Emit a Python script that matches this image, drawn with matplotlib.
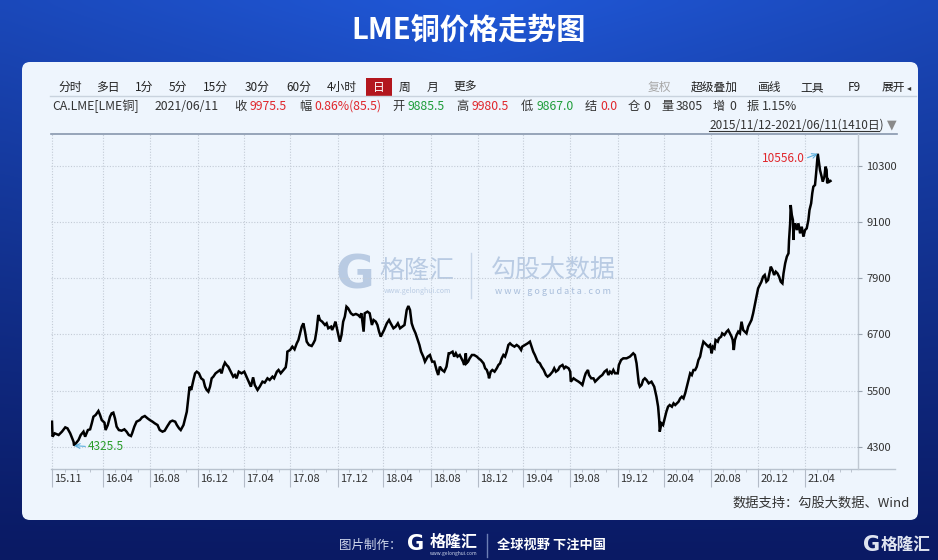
import numpy as np
import matplotlib
matplotlib.use("Agg")
import matplotlib.pyplot as plt
from matplotlib.patches import FancyBboxPatch, Rectangle
from matplotlib import transforms

plt.rcParams['font.family'] = ['Noto Sans CJK SC', 'DejaVu Sans']

# trading-day index (0 = 2015/11/12, 1409 = 2021/06/11) and LME copper close
day_idx = [
    0, 1, 5, 12, 18, 24, 28, 33, 39, 40, 48, 52, 57, 60, 65, 69, 72, 75, 79, 83,
    84, 87, 90, 95, 97, 101, 105, 108, 111, 114, 117, 121, 126, 131, 135, 139, 143, 145, 149, 153,
    159, 163, 168, 173, 177, 182, 186, 191, 195, 200, 204, 209, 214, 218, 223, 226, 230, 233, 238, 241,
    244, 247, 249, 252, 256, 259, 262, 266, 270, 274, 277, 280, 283, 286, 289, 292, 296, 300, 304, 307,
    310, 313, 316, 319, 322, 325, 328, 331, 334, 338, 343, 348, 352,
    360, 364, 367, 372, 376, 381, 385, 390, 394, 399, 402, 407, 410, 414, 419, 423, 425, 426, 431, 435,
    439, 443, 446, 449, 452, 455, 458, 461, 465, 470, 473, 476, 479, 482, 485, 489, 494, 497, 500, 505,
    507, 511, 513, 517, 521, 524, 527, 530, 533, 536, 541, 545, 550, 554, 557, 560, 564, 566, 571, 575,
    579, 582, 586, 589, 592, 595, 598, 601, 606, 610, 613, 618, 622, 626, 630, 634, 638, 642, 645, 648,
    651, 654, 658, 662, 665, 668, 672, 675, 680, 684, 688, 692, 696, 699, 702, 706, 710, 714, 718,
    720, 725, 728, 731, 734, 738, 741, 744, 746, 749, 750, 753, 756, 760, 764, 769, 772, 776, 781, 784,
    787, 790, 791, 794, 797, 801, 805, 808, 811, 814, 817, 820, 823, 826, 829, 832, 837, 841, 845, 849,
    851, 856, 861, 865, 868, 871, 874, 879, 883, 886, 890, 894, 897, 901, 906, 909, 912, 916, 919, 924,
    927, 930, 935, 938, 939, 944, 948, 953, 957, 960, 964, 966, 970, 972, 976, 980, 983, 986, 989, 992,
    996, 1000, 1004, 1007, 1010, 1013, 1016, 1019, 1024, 1026, 1030, 1034, 1040, 1046, 1049, 1052, 1055, 1058, 1060, 1062,
    1064, 1067, 1070, 1073, 1076, 1080,
    1085, 1090, 1094, 1097, 1099, 1100, 1103, 1106, 1109, 1112, 1115, 1118, 1122, 1125, 1128, 1131, 1134, 1137, 1140, 1143,
    1146, 1149, 1152, 1155, 1158, 1161, 1164, 1167, 1170, 1173, 1176, 1179, 1182, 1185, 1188, 1191, 1194, 1196, 1199, 1201,
    1205, 1207, 1211, 1213, 1217, 1221, 1224, 1227, 1230, 1232, 1234, 1236, 1239, 1242, 1245, 1248, 1251, 1254, 1257, 1260,
    1263, 1266, 1269, 1272, 1275, 1278, 1281, 1284, 1287, 1290, 1293, 1296, 1299, 1301, 1304, 1307, 1310, 1313, 1316, 1319,
    1322, 1324, 1327, 1330, 1333, 1334, 1336, 1337, 1339, 1341, 1342, 1343, 1345, 1348, 1351, 1354, 1357, 1360, 1363, 1366,
    1369, 1371, 1374, 1376, 1378, 1381, 1383, 1385, 1386, 1388, 1390, 1393, 1395, 1398, 1400, 1402, 1403, 1405, 1407, 1409,
]
close = [
    4836, 4516, 4587, 4552, 4623, 4715, 4694, 4587, 4409, 4326, 4445, 4552, 4623, 4516, 4658, 4673, 4801, 4943, 4979, 5050,
    5064, 4979, 4872, 4815, 4658, 4765, 4943, 5014, 5029, 4907, 4730, 4658, 4644, 4673, 4623, 4552, 4530, 4587, 4730, 4836,
    4872, 4929, 4957, 4907, 4872, 4836, 4801, 4765, 4658, 4623, 4644, 4744, 4836, 4858, 4836, 4765, 4694, 4658, 4765, 4907,
    5050, 5370, 5584, 5513, 5726, 5868, 5904, 5868, 5762, 5726, 5584, 5513, 5477, 5584, 5762, 5797, 5868, 5904, 5939, 5868,
    6011, 6096, 6046, 6011, 5939, 5868, 5797, 5833, 5762, 5904, 5868, 5904, 5797,
    5584, 5783, 5620, 5513, 5584, 5691, 5670, 5762, 5726, 5797, 5762, 5904, 5940, 5869, 5940, 5997, 6153, 6331, 6367, 6438,
    6381, 6509, 6580, 6723, 6865, 6936, 6758, 6545, 6474, 6452, 6509, 6580, 6794, 7114, 7007, 6972, 6901, 6936, 6830, 6865,
    6794, 6901, 6972, 6758, 6545, 6687, 6972, 7079, 7292, 7257, 7150, 7114, 7136, 7114, 7079, 7150, 6758, 7150, 7185, 7150,
    6901, 7007, 6972, 6901, 6758, 6652, 6723, 6794, 6936, 7007, 6936, 6830, 6865, 6936, 6830, 6865, 6901, 7221, 7306, 7221,
    6936, 6830, 6723, 6580, 6474, 6331, 6225, 6118, 6225, 6260, 6118, 6118, 5940, 5833, 6011, 5940, 5904, 6011, 6296,
    6296, 6331, 6225, 6296, 6225, 6260, 6189, 6118, 6047, 6296, 6082, 6118, 6189, 6260, 6260, 6225, 6189, 6153, 6082, 5976,
    5940, 5833, 5762, 5904, 5940, 5904, 5976, 6047, 6082, 6189, 6260, 6225, 6331, 6474, 6509, 6474, 6438, 6474, 6438, 6367,
    6438, 6474, 6509, 6545, 6438, 6331, 6260, 6118, 6082, 6011, 5940, 5833, 5798, 5833, 5904, 5976, 5904, 5940, 6011, 6047,
    5976, 6011, 5976, 5904, 5691, 5762, 5727, 5691, 5655, 5620, 5798, 5869, 5940, 5833, 5762, 5762, 5691, 5727, 5762, 5798,
    5833, 5904, 5940, 5833, 5904, 5869, 5940, 5869, 5869, 6047, 6153, 6189, 6189, 6225, 6260, 6296, 6260, 6082, 5869, 5655,
    5584, 5620, 5727, 5762, 5727, 5655,
    5690, 5583, 5370, 5156, 4872, 4623, 4800, 4765, 4907, 5050, 5156, 5192, 5156, 5228, 5192, 5228, 5263, 5334, 5370, 5334,
    5441, 5583, 5726, 5868, 5832, 5939, 5939, 6010, 6153, 6224, 6402, 6544, 6509, 6473, 6437, 6473, 6295, 6437, 6402, 6580,
    6544, 6615, 6651, 6722, 6686, 6758, 6793, 6722, 6651, 6580, 6366, 6580, 6686, 6758, 6722, 6971, 6793, 6758, 6722, 6864,
    6936, 7007, 7149, 7327, 7505, 7683, 7754, 7825, 7932, 7968, 7825, 7861, 8039, 8146, 8074, 7968, 8039, 8003, 7932, 7825,
    7790, 8003, 8217, 8359, 8430, 8715, 9071, 9462, 9249, 9142, 8715, 8999, 9071, 8928, 9071, 8857, 8999, 8786, 8928, 8964,
    9142, 9355, 9498, 9711, 9854, 9889, 10138, 10423, 10556, 10387, 10209, 10067, 9960, 10067, 10281, 10209, 9925, 9996, 9960, 9975.5,
]

month_ticks = [0, 92, 177, 264, 348, 431, 518, 599, 686, 771, 852, 938, 1024, 1108, 1193, 1278, 1363]
month_labels = ['15.11', '16.04', '16.08', '16.12', '17.04', '17.08', '17.12', '18.04', '18.08',
                '18.12', '19.04', '19.08', '19.12', '20.04', '20.08', '20.12', '21.04']
y_ticks = [4300, 5500, 6700, 7900, 9100, 10300]

low_day, low_val = 40, 4325.5
high_day, high_val = 1386, 10556.0

toolbar_left = ['分时', '多日', '1分', '5分', '15分', '30分', '60分', '4小时', '日', '周', '月', '更多']
toolbar_right = ['复权', '超级叠加', '画线', '工具', 'F9', '展开']
info_items = [('CA.LME[LME铜]', 'k'), ('2021/06/11', 'k'), ('收', 'k'), ('9975.5', 'r'),
              ('幅', 'k'), ('0.86%(85.5)', 'r'), ('开', 'k'), ('9885.5', 'g'), ('高', 'k'),
              ('9980.5', 'r'), ('低', 'k'), ('9867.0', 'g'), ('结', 'k'), ('0.0', 'r'),
              ('仓', 'k'), ('0', 'k'), ('量', 'k'), ('3805', 'k'), ('增', 'k'), ('0', 'k'),
              ('振', 'k'), ('1.15%', 'k')]

DARK = '#333333'
RED = '#e0262b'
GREEN = '#1f9d3a'
colmap = {'k': DARK, 'r': RED, 'g': GREEN}

fig = plt.figure(figsize=(9.38, 5.6), dpi=100)

# background layer in pixel coordinates
bg = fig.add_axes([0, 0, 1, 1])
bg.set_xlim(0, 938)
bg.set_ylim(560, 0)
bg.axis('off')

gy, gx = np.mgrid[0:1:80j, 0:1:120j]
t = (1 - gy) ** 1.1 * (1 - 0.25 * np.abs(gx - 0.5) * 2)
dark = np.array([10, 26, 100]) / 255
light = np.array([32, 88, 215]) / 255
img = dark + (light - dark) * t[..., None]
bg.imshow(img, extent=(0, 938, 560, 0), aspect='auto', interpolation='bicubic', zorder=0)

bg.text(469, 30, 'LME铜价格走势图', ha='center', va='center', fontsize=21,
        fontweight='bold', color='white', zorder=2)

panel = FancyBboxPatch((22, 62), 896, 458, boxstyle='round,pad=0,rounding_size=8',
                       facecolor='#eef5fd', edgecolor='none', zorder=1)
bg.add_patch(panel)

# toolbar
left_x = [58, 96, 135, 169, 203, 245, 286, 327, 373, 399, 427, 453]
bg.add_patch(Rectangle((366, 78), 26, 19, facecolor='#b3161d', edgecolor='none', zorder=2))
for x, s in zip(left_x, toolbar_left):
    bg.text(x, 87.5, s, ha='left', va='center', fontsize=8.5,
            color='white' if s == '日' else '#222222', zorder=3)
right_x = [648, 691, 758, 800, 848, 882]
for x, s in zip(right_x, toolbar_right):
    bg.text(x, 87.5, s, ha='left', va='center', fontsize=8.5,
            color='#a8a8a8' if s == '复权' else '#222222', zorder=3)
bg.text(907, 87.5, '◂', ha='left', va='center', fontsize=6, color=DARK,
        family=['DejaVu Sans'], zorder=3)
bg.plot([50, 916], [95.5, 95.5], color='#c9d3de', lw=1, zorder=2)

# info row
info_x = [52, 155, 234, 250, 299, 314, 392, 407.5, 456, 471.5, 521, 536.5, 585, 600.5,
          628, 643, 661, 676, 713, 729, 747, 762]
for x, (s, c) in zip(info_x, info_items):
    bg.text(x, 106.5, s, ha='left', va='center', fontsize=8.8, color=colmap[c], zorder=3)

bg.text(709, 125, '2015/11/12-2021/06/11(1410日)', ha='left', va='center',
        fontsize=8.5, color=DARK, zorder=3)
bg.plot([709, 879], [131, 131], color=DARK, lw=0.8, zorder=3)
bg.text(887, 124.5, '▼', ha='left', va='center', fontsize=9, color='#8a8a8a',
        family=['DejaVu Sans'], zorder=3)

# frame lines of the chart
bg.plot([51, 897], [133.5, 133.5], color='#8797ad', lw=1.2, zorder=2)
bg.plot([51, 895], [469, 469], color='#b8c2ce', lw=1, zorder=2)
bg.plot([858, 858], [134, 469], color='#c0c8d2', lw=1, zorder=2)

# watermark
wm = '#b9cbe3'
bg.text(355, 276, 'G', ha='center', va='center', fontsize=34, fontweight='bold',
        color=wm, family=['DejaVu Sans'], zorder=2)
bg.text(417, 271, '格隆汇', ha='center', va='center', fontsize=18, color=wm, zorder=2)
bg.text(417, 291, 'www.gelonghui.com', ha='center', va='center', fontsize=5, color=wm, zorder=2)
bg.plot([471, 471], [253, 298], color='#c8d6e8', lw=1, zorder=2)
bg.text(553, 270, '勾股大数据', ha='center', va='center', fontsize=18, color=wm, zorder=2)
bg.text(553, 291, 'w w w . g o g u d a t a . c o m', ha='center', va='center', fontsize=6.5,
        color='#a9bedb', zorder=2)

# source note
bg.text(910, 503, '数据支持：勾股大数据、Wind', ha='right', va='center', fontsize=9.5,
        color=DARK, zorder=3)

# footer strip
bg.text(339, 545, '图片制作：', ha='left', va='center', fontsize=9, color='#d0d8ec', zorder=3)
bg.text(416, 544, 'G', ha='center', va='center', fontsize=15, fontweight='bold',
        color='white', family=['DejaVu Sans'], zorder=3)
bg.text(454, 542, '格隆汇', ha='center', va='center', fontsize=11.5, fontweight='bold',
        color='white', zorder=3)
bg.text(454, 554, 'www.gelonghui.com', ha='center', va='center', fontsize=3.5,
        color='#d0d8ec', zorder=3)
bg.plot([487, 487], [534, 557], color='#6d7fb5', lw=1, zorder=3)
bg.text(497, 545, '全球视野 下注中国', ha='left', va='center', fontsize=9.5,
        fontweight='bold', color='white', zorder=3)
bg.text(872, 545, 'G', ha='center', va='center', fontsize=15, fontweight='bold',
        color='#dfe4f0', family=['DejaVu Sans'], zorder=3)
bg.text(906, 545, '格隆汇', ha='center', va='center', fontsize=12, fontweight='bold',
        color='#dfe4f0', zorder=3)

# price chart
ax = fig.add_axes([51 / 938, 1 - 469 / 560, 807 / 938, 335 / 560])
ax.patch.set_alpha(0)
ax.plot(day_idx, close, color='black', lw=1.8, solid_joinstyle='miter', zorder=3)
ax.set_xlim(-1.8, 1458.8)
ax.set_ylim(3826, 10978)
for s in ax.spines.values():
    s.set_visible(False)

ax.set_yticks(y_ticks)
ax.set_yticklabels([str(v) for v in y_ticks])
ax.yaxis.tick_right()
ax.tick_params(axis='y', length=3, width=0.8, color='#9aa4b0', pad=3,
               labelsize=8, labelcolor=DARK)

ax.set_xticks(month_ticks)
ax.set_xticklabels([])
ax.tick_params(axis='x', which='major', length=13, width=0.8, color='#b4bcc8')
minor = []
for a, b in zip(month_ticks[:-1], month_ticks[1:]):
    minor += list(np.linspace(a, b, 5)[1:-1])
minor += [1384, 1405, 1426, 1447]
ax.set_xticks(minor, minor=True)
ax.tick_params(axis='x', which='minor', length=2.5, width=0.6, color='#b4bcc8')
ax.grid(True, which='major', color='#c3cbd6', lw=0.8, linestyle=(0, (1, 1.5)))

lab_tr = transforms.offset_copy(ax.get_xaxis_transform(), fig=fig, x=2, y=0, units='dots')
for d, s in zip(month_ticks, month_labels):
    ax.text(d, -0.03, s, transform=lab_tr, ha='left', va='center', fontsize=8, color=DARK)

ax.annotate(f'{low_val:.1f}', xy=(low_day, low_val), xytext=(14, -1),
            textcoords='offset pixels', ha='left', va='center', fontsize=8.5, color='#2a9d2a',
            arrowprops=dict(arrowstyle='->', color='#5aaedc', lw=0.8, shrinkA=0, shrinkB=0,
                            relpos=(0, 0.5)))
ax.annotate(f'{high_val:.1f}', xy=(high_day, high_val), xytext=(-13, -5),
            textcoords='offset pixels', ha='right', va='center', fontsize=8.5, color=RED,
            arrowprops=dict(arrowstyle='->', color='#5aaedc', lw=0.8, shrinkA=0, shrinkB=0,
                            relpos=(1, 0.5)))

fig.savefig('out.png', dpi=100)
